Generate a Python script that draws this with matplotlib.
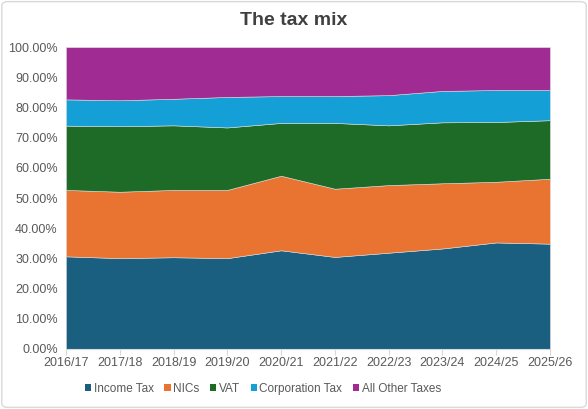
import numpy as np
import matplotlib.pyplot as plt
from matplotlib.patches import Patch, FancyBboxPatch

plt.rcParams['font.family'] = ['Liberation Sans', 'DejaVu Sans']

years = ["2016/17", "2017/18", "2018/19", "2019/20", "2020/21",
         "2021/22", "2022/23", "2023/24", "2024/25", "2025/26"]
income_tax = [30.7, 30.1, 30.4, 30.1, 32.7, 30.5, 31.9, 33.3, 35.3, 34.9]
nics = [22.0, 22.0, 22.3, 22.6, 24.7, 22.6, 22.4, 21.6, 20.1, 21.5]
vat = [21.3, 21.7, 21.4, 20.7, 17.5, 21.8, 19.8, 20.2, 19.8, 19.4]
corp_tax = [8.7, 8.6, 8.8, 10.1, 8.9, 8.9, 10.0, 10.4, 10.6, 10.0]
other = [17.3, 17.6, 17.1, 16.5, 16.2, 16.2, 15.9, 14.5, 14.2, 14.2]

labels = ["Income Tax", "NICs", "VAT", "Corporation Tax", "All Other Taxes"]
colors = ["#1a5e80", "#e97431", "#1e6b27", "#14a0d7", "#a02b93"]

fig = plt.figure(figsize=(5.88, 4.09), dpi=100)
ax = fig.add_axes([0.1122, 0.1467, 0.823, 0.738])

x = np.arange(len(years))
ax.stackplot(x, income_tax, nics, vat, corp_tax, other, colors=colors,
             edgecolor="#d9d9d9", linewidth=0.4)

ax.set_xlim(0, len(years) - 1)
ax.set_ylim(0, 100)
ax.set_yticks(np.arange(0, 101, 10))
ax.set_yticklabels([f"{v:.2f}%" for v in range(0, 101, 10)])
ax.set_xticks(x)
ax.set_xticklabels(years)
ax.tick_params(axis="y", length=0, labelsize=9, colors="#595959", pad=6)
ax.tick_params(axis="x", length=4, labelsize=9, labelcolor="#595959",
               color="#d9d9d9", pad=2)
for s in ["top", "right", "left"]:
    ax.spines[s].set_visible(False)
ax.spines["bottom"].set_color("#d9d9d9")

fig.text(0.5, 0.95, "The tax mix", ha="center", va="center",
         fontsize=14, fontweight="bold", color="#404040")

handles = [Patch(facecolor=c, edgecolor="none") for c in colors]
fig.legend(handles, labels, loc="center", bbox_to_anchor=(0.447, 0.05),
           ncol=5, frameon=False, fontsize=8.5, handlelength=0.55,
           handleheight=0.55, handletextpad=0.2, columnspacing=0.9,
           labelcolor="#595959")

fig.patches.append(FancyBboxPatch((0.003, 0.004), 0.994, 0.992,
                                  boxstyle="round,pad=0,rounding_size=0.01",
                                  transform=fig.transFigure, fill=False,
                                  edgecolor="#d9d9d9", linewidth=1))

plt.savefig("out.png", dpi=100)
